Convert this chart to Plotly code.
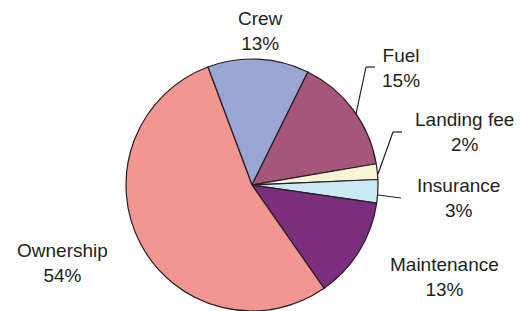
import plotly.graph_objects as go

labels = ["Crew", "Fuel", "Landing fee", "Insurance", "Maintenance", "Ownership"]
values = [13, 15, 2, 3, 13, 54]
colors = ["#9AA6D3", "#A4577A", "#F8F4D5", "#C8EAF4", "#7D2D7E", "#F29692"]

# page body has an 8px margin: the figure is drawn 8px in from the window edge
OFF = 8
W, H = 522 - OFF, 311 - OFF

# label centres (window pixels)
label_pos = {
    "Crew": (260.5, 31),
    "Fuel": (401, 68),
    "Landing fee": (464.5, 132.5),
    "Insurance": (458, 198),
    "Maintenance": (444.5, 277),
    "Ownership": (62.5, 262.5),
}
# leader lines (window pixel polylines)
leaders = [
    [(375, 67), (366, 67), (356, 114)],
    [(402, 132), (393, 132), (378, 174)],
    [(378, 195), (401, 198)],
]

def px(x):
    return (x - OFF) / W

def py(y):
    return 1 - (y - OFF) / H

d = 252
cx, cy = 252, 185

fig = go.Figure(go.Pie(
    labels=labels,
    values=values,
    sort=False,
    direction="clockwise",
    rotation=-20.5,
    marker=dict(colors=colors, line=dict(color="#231F20", width=1.2)),
    textinfo="none",
    hoverinfo="label+percent",
    showlegend=False,
    domain=dict(x=[px(cx - d / 2), px(cx + d / 2)],
                y=[max(0, py(cy + d / 2)), min(1, py(cy - d / 2))]),
))

annotations = []
for lab, val in zip(labels, values):
    x, y = label_pos[lab]
    annotations.append(dict(
        x=px(x), y=py(y), xref="paper", yref="paper",
        text=f"{lab}<br>{val}%", showarrow=False,
        xanchor="center", yanchor="middle", align="center",
        font=dict(family="Liberation Sans, Arial, sans-serif", size=19, color="#231F20"),
    ))

shapes = []
for pts in leaders:
    for (x0, y0), (x1, y1) in zip(pts[:-1], pts[1:]):
        shapes.append(dict(type="line", xref="paper", yref="paper",
                           x0=px(x0), y0=py(y0), x1=px(x1), y1=py(y1),
                           line=dict(color="#231F20", width=1.2)))

fig.update_layout(
    width=W, height=H,
    margin=dict(l=0, r=0, t=0, b=0),
    paper_bgcolor="white",
    plot_bgcolor="white",
    annotations=annotations,
    shapes=shapes,
)

fig.write_html("out.html")
